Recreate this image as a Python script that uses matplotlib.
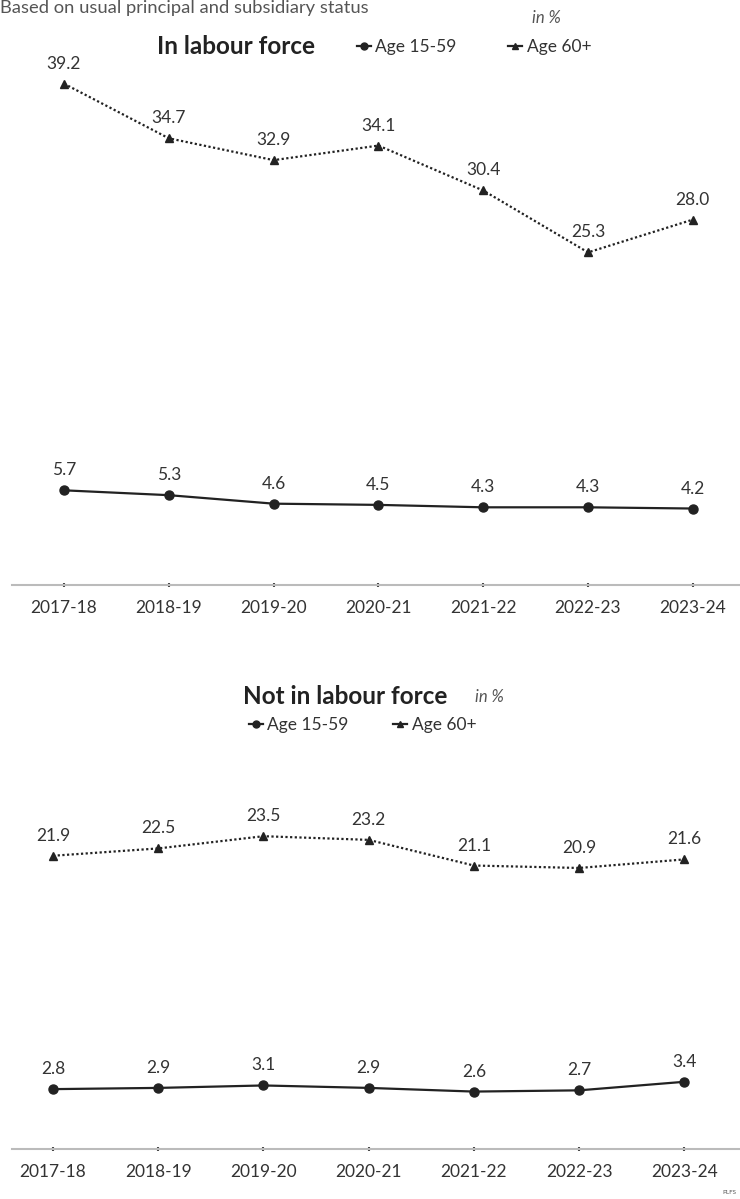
import matplotlib
matplotlib.use("Agg")
import matplotlib.pyplot as plt
from matplotlib.lines import Line2D

years = ["2017-18", "2018-19", "2019-20", "2020-21", "2021-22", "2022-23", "2023-24"]

# in labour force, %
in_lf_15_59 = [5.7, 5.3, 4.6, 4.5, 4.3, 4.3, 4.2]
in_lf_60 = [39.2, 34.7, 32.9, 34.1, 30.4, 25.3, 28.0]

# not in labour force, %
not_lf_15_59 = [2.8, 2.9, 3.1, 2.9, 2.6, 2.7, 3.4]
not_lf_60 = [21.9, 22.5, 23.5, 23.2, 21.1, 20.9, 21.6]

plt.rcParams["font.family"] = ["Lato", "DejaVu Sans"]
INK = "#222222"
W, H = 740, 1199

fig = plt.figure(figsize=(W / 100, H / 100), dpi=100)


def px(x, y):
    return x / W, 1 - y / H


def draw_panel(ax, young, old, xlim, ylim):
    xs = range(len(years))
    ax.plot(xs, old, color=INK, lw=1.6, ls=(0, (1, 1.1)), marker="^", ms=6)
    ax.plot(xs, young, color=INK, lw=1.6, marker="o", ms=6.5)
    for series in (young, old):
        for i, v in enumerate(series):
            ax.annotate(f"{v:.1f}", (i, v), xytext=(0, 20), textcoords="offset pixels",
                        ha="center", va="center", fontsize=12.5, color="#333333")
    ax.set_xlim(*xlim)
    ax.set_ylim(*ylim)
    ax.set_xticks(list(xs))
    ax.set_xticklabels(years, fontsize=12.5, color="#333333")
    ax.set_yticks([])
    for s in ("top", "right", "left"):
        ax.spines[s].set_visible(False)
    ax.spines["bottom"].set_color("#bbbbbb")
    ax.spines["bottom"].set_linewidth(1.5)
    ax.tick_params(axis="x", length=3, width=1.5, color="#444444", direction="inout", pad=9)
    ax.patch.set_alpha(0)


ax1 = fig.add_axes([12 / W, 1 - 585 / H, 728 / W, 525 / H])
draw_panel(ax1, in_lf_15_59, in_lf_60, (-0.496, 6.45), (-2.1, 41.15))

ax2 = fig.add_axes([12 / W, 1 - 1149 / H, 728 / W, 369 / H])
draw_panel(ax2, not_lf_15_59, not_lf_60, (-0.39, 6.53), (-2.1, 28.1))

# headings
fig.text(*px(0, 0), "Based on usual principal and subsidiary status", fontsize=13.2,
         color="#555555", va="top", ha="left")
fig.text(*px(532, 18), "in %", fontsize=12, style="italic", color="#555555", va="center")
fig.text(*px(157, 47), "In labour force", fontsize=17.5, weight="bold", color=INK, va="center")
fig.text(*px(243, 697), "Not in labour force", fontsize=17.5, weight="bold", color=INK, va="center")
fig.text(*px(475, 697), "in %", fontsize=12, style="italic", color="#555555", va="center")

handles = [Line2D([], [], color=INK, lw=1.6, marker="o", ms=5),
           Line2D([], [], color=INK, lw=1.6, marker="^", ms=5)]
labels = ["Age 15-59", "Age 60+"]
leg_kw = dict(ncol=2, frameon=False, handlelength=0.8, handletextpad=0.25,
              fontsize=12.5, borderpad=0, loc="center left")
leg1 = fig.legend(handles, labels, bbox_to_anchor=px(348, 47), columnspacing=3.0, **leg_kw)
leg2 = fig.legend(handles, labels, bbox_to_anchor=px(240, 725), columnspacing=2.6, **leg_kw)
for leg in (leg1, leg2):
    for t in leg.get_texts():
        t.set_color("#333333")

fig.text(*px(722, 1193), "PLFS", fontsize=4.5, color="#555555", va="center")

fig.savefig("out.png", dpi=100)
